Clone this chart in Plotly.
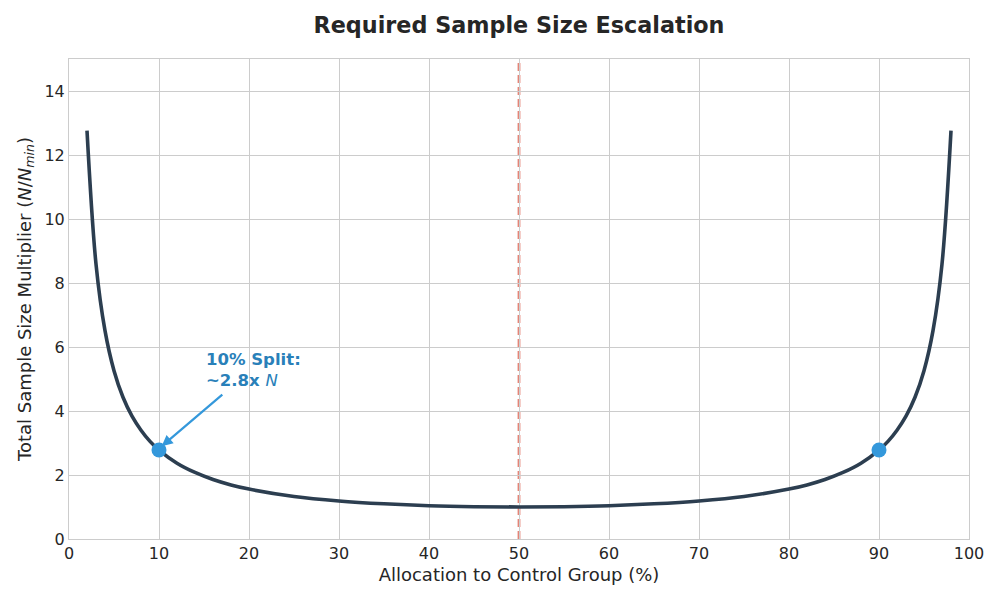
import plotly.graph_objects as go

# values
ALLOC = [2, 3, 4, 5, 6, 7, 8, 9, 10, 12, 14, 16, 18, 20, 25, 30, 35, 40, 45, 50,
         55, 60, 65, 70, 75, 80, 82, 84, 86, 88, 90, 91, 92, 93, 94, 95, 96, 97, 98]
MULT = [12.76, 8.59, 6.51, 5.26, 4.43, 3.84, 3.40, 3.05, 2.78, 2.37, 2.08, 1.86, 1.69, 1.56,
        1.33, 1.19, 1.10, 1.04, 1.01, 1.00, 1.01, 1.04, 1.10, 1.19, 1.33, 1.56, 1.69, 1.86,
        2.08, 2.37, 2.78, 3.05, 3.40, 3.84, 4.43, 5.26, 6.51, 8.59, 12.76]
HIGHLIGHT_X = [10, 90]
HIGHLIGHT_Y = [2.78, 2.78]
EQUAL_SPLIT = 50

font_family = "DejaVu Sans"

fig = go.Figure()
fig.add_scatter(x=ALLOC, y=MULT, mode="lines", line=dict(color="#2c3e50", width=3.6, shape="spline"),
                showlegend=False)
fig.add_scatter(x=HIGHLIGHT_X, y=HIGHLIGHT_Y, mode="markers",
                marker=dict(color="#3498db", size=15), showlegend=False)

# 50/50 reference line, under the curve
fig.add_vline(x=EQUAL_SPLIT, line_dash="8px,4px", line_color="rgba(225,110,95,0.85)", line_width=2.8,
              layer="below")

# arrow + label
fig.add_annotation(x=10.3, y=2.9, ax=17.2, ay=4.55, axref="x", ayref="y", text="",
                   showarrow=True, arrowhead=2, arrowsize=1, arrowwidth=2.2, arrowcolor="#3498db")
fig.add_annotation(x=15, y=4.6,
                   text="10% Split:<br>~2.8x <span style='font-weight:normal'><i>N</i></span>",
                   showarrow=False, xanchor="left", yanchor="bottom", align="left",
                   font=dict(size=16.5, color="#2980b9", family=font_family, weight="bold"))

axis_common = dict(showgrid=True, gridcolor="#cccccc", gridwidth=1, zeroline=False,
                   showline=True, linecolor="#cccccc", mirror=True, ticks="",
                   tickfont=dict(size=16, color="#262626"))

# the page sits 8px in from the window edge, margins are set against that
fig.update_layout(
    width=1000, height=600,
    plot_bgcolor="white", paper_bgcolor="white",
    font=dict(family=font_family, color="#262626"),
    title=dict(text="<b>Required Sample Size Escalation</b>", x=0.5, xanchor="center",
               xref="paper", y=0.972, yanchor="middle", font=dict(size=22.3, color="#262626")),
    margin=dict(l=61, r=39, t=51, b=69),
    xaxis=dict(range=[0, 100], dtick=10,
               title=dict(text="Allocation to Control Group (%)", font=dict(size=18), standoff=6),
               **axis_common),
    yaxis=dict(range=[0, 15], dtick=2,
               title=dict(text="Total Sample Size Multiplier (<i>N</i>/<i>N</i><sub><i>min</i></sub>)",
                          font=dict(size=18), standoff=8),
               **axis_common),
)

fig.write_html("out.html")
